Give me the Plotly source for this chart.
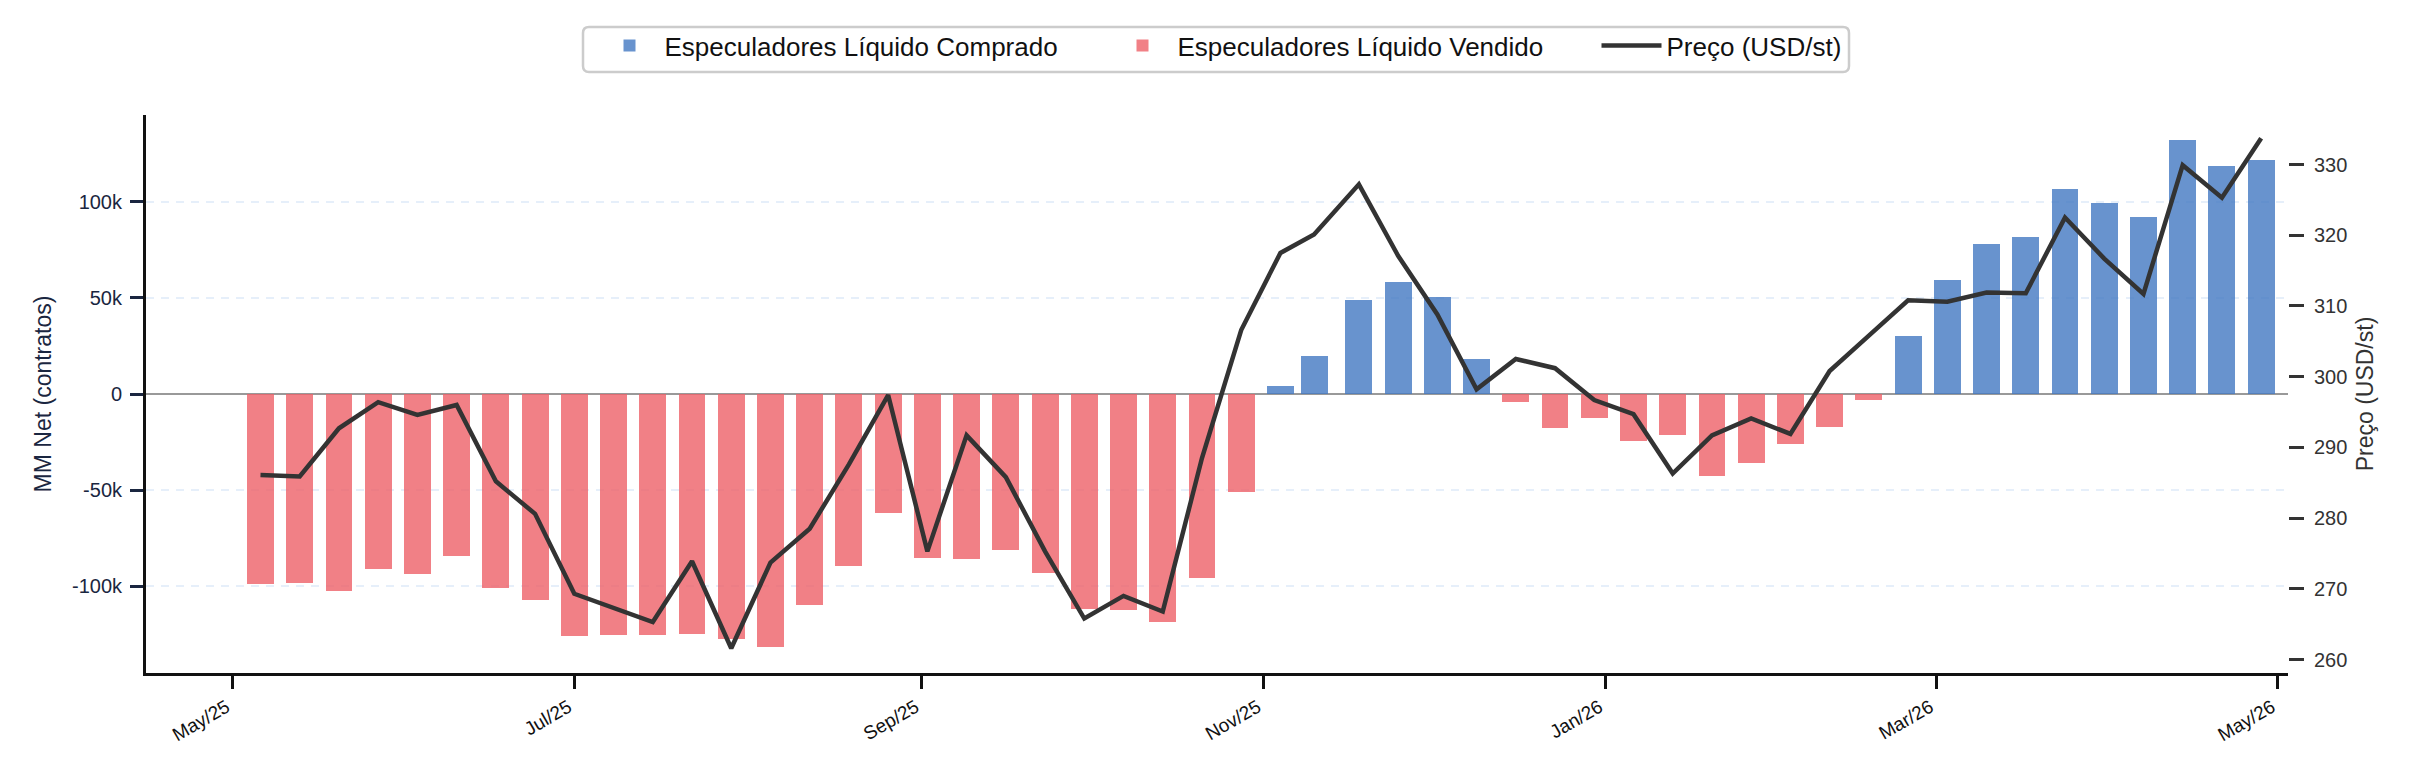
import plotly.graph_objects as go

# ---- data ----
dates = [
    "2025-05-06", "2025-05-13", "2025-05-20", "2025-05-27", "2025-06-03", "2025-06-10",
    "2025-06-17", "2025-06-24", "2025-07-01", "2025-07-08", "2025-07-15", "2025-07-22",
    "2025-07-29", "2025-08-05", "2025-08-12", "2025-08-19", "2025-08-26", "2025-09-02",
    "2025-09-09", "2025-09-16", "2025-09-23", "2025-09-30", "2025-10-07", "2025-10-14",
    "2025-10-21", "2025-10-28", "2025-11-04", "2025-11-10", "2025-11-18", "2025-11-25",
    "2025-12-02", "2025-12-09", "2025-12-16", "2025-12-23", "2025-12-30", "2026-01-06",
    "2026-01-13", "2026-01-20", "2026-01-27", "2026-02-03", "2026-02-10", "2026-02-17",
    "2026-02-24", "2026-03-03", "2026-03-10", "2026-03-17", "2026-03-24", "2026-03-31",
    "2026-04-07", "2026-04-14", "2026-04-21", "2026-04-28",
]

mm_net_k = [
    -98.7, -98.3, -102.2, -91.0, -93.5, -84.2, -101.0, -106.8, -125.9, -125.3,
    -125.3, -124.9, -127.4, -131.7, -109.7, -89.5, -61.9, -85.2, -85.8, -81.2,
    -93.1, -111.8, -112.4, -118.6, -95.6, -50.9, 4.2, 19.9, 48.6, 58.4,
    50.5, 18.3, -3.9, -17.9, -12.7, -24.3, -21.2, -42.4, -35.7, -25.8,
    -17.0, -2.9, 30.3, 59.4, 77.7, 81.4, 106.4, 99.1, 91.8, 131.9,
    118.4, 121.5,
]

price = [
    286.1, 285.9, 292.7, 296.4, 294.6, 296.0, 285.2, 280.6, 269.3, 267.3,
    265.3, 273.9, 261.6, 273.7, 278.5, 287.6, 297.4, 275.3, 291.7, 285.8,
    275.3, 265.8, 269.0, 266.8, 288.5, 306.6, 317.5, 320.1, 327.2, 317.1,
    308.8, 298.2, 302.5, 301.2, 296.7, 294.7, 286.3, 291.7, 294.1, 291.9,
    300.8, 305.8, 310.8, 310.6, 311.9, 311.8, 322.5, 316.7, 311.7, 329.9,
    325.3, 333.7,
]

x_tick_dates = ["2025-05-01", "2025-07-01", "2025-09-01", "2025-11-01",
                "2026-01-01", "2026-03-01", "2026-05-01"]
x_tick_text = ["May/25", "Jul/25", "Sep/25", "Nov/25", "Jan/26", "Mar/26", "May/26"]

y_tick_vals = [-100000, -50000, 0, 50000, 100000]
y_tick_text = ["-100k", "-50k", "0", "50k", "100k"]

y2_tick_vals = [260, 270, 280, 290, 300, 310, 320, 330]

# ---- derived series ----
mm_net = [v * 1000 for v in mm_net_k]
pos_x = [d for d, v in zip(dates, mm_net) if v >= 0]
pos_y = [v for v in mm_net if v >= 0]
neg_x = [d for d, v in zip(dates, mm_net) if v < 0]
neg_y = [v for v in mm_net if v < 0]

BAR_W = 4.8 * 86400000  # ms
FONT = "Liberation Sans, Arial, sans-serif"
NAVY = "#1a2640"

# page geometry (px) used to place the legend frame
W, H = 2416, 781
ML, MR, MT, MB = 146, 128, 115, 108
PW, PH = W - ML - MR, H - MT - MB


def px_x(px):
    return (px - ML) / PW


def px_y(py):
    return (H - MB - py) / PH


fig = go.Figure()
fig.add_trace(go.Bar(
    x=pos_x, y=pos_y, width=BAR_W, name="Especuladores Líquido Comprado",
    marker=dict(color="rgba(66,120,194,0.8)", line=dict(width=0)),
    legendwidth=438,
))
fig.add_trace(go.Bar(
    x=neg_x, y=neg_y, width=BAR_W, name="Especuladores Líquido Vendido",
    marker=dict(color="rgba(238,96,104,0.8)", line=dict(width=0)),
    legendwidth=414,
))
fig.add_trace(go.Scatter(
    x=dates, y=price, mode="lines", name="Preço (USD/st)", yaxis="y2",
    line=dict(color="#333333", width=4.5),
    legendwidth=180,
))

# rounded legend frame
x0, x1, y0, y1 = px_x(583), px_x(1849), px_y(72), px_y(27)
rx, ry = 6 / PW, 6 / PH
frame = (f"M{x0+rx},{y1} L{x1-rx},{y1} Q{x1},{y1} {x1},{y1-ry} "
         f"L{x1},{y0+ry} Q{x1},{y0} {x1-rx},{y0} L{x0+rx},{y0} "
         f"Q{x0},{y0} {x0},{y0+ry} L{x0},{y1-ry} Q{x0},{y1} {x0+rx},{y1} Z")

fig.update_layout(
    width=W, height=H,
    paper_bgcolor="white", plot_bgcolor="white",
    font=dict(family=FONT, color="#111111"),
    margin=dict(l=ML, r=MR, t=MT, b=MB, autoexpand=False),
    barmode="overlay",
    bargap=0,
    showlegend=True,
    shapes=[dict(type="path", path=frame, xref="paper", yref="paper",
                 line=dict(color="#cccccc", width=2.5), fillcolor="white",
                 layer="above")],
    legend=dict(
        orientation="h", x=px_x(594.5), xanchor="left", y=px_y(22), yanchor="top",
        borderwidth=0, bgcolor="rgba(0,0,0,0)",
        font=dict(size=26, color="#111111", family=FONT),
        traceorder="normal",
        itemwidth=60,
    ),
    xaxis=dict(
        type="date",
        range=["2025-04-15 13:40", "2026-05-02 19:00"],
        tickmode="array", tickvals=x_tick_dates, ticktext=x_tick_text,
        tickangle=-30,
        tickfont=dict(size=19, color="#111111", family=FONT),
        ticks="outside", ticklen=13, tickwidth=2.5, tickcolor="#111111",
        ticklabelshift=-6,
        showline=True, linecolor="#111111", linewidth=3,
        showgrid=False, zeroline=False,
    ),
    yaxis=dict(
        range=[-145000, 145000],
        tickmode="array", tickvals=y_tick_vals, ticktext=y_tick_text,
        tickfont=dict(size=20, color=NAVY, family=FONT),
        ticks="outside", ticklen=13, tickwidth=3, tickcolor=NAVY,
        ticklabelstandoff=4,
        showline=True, linecolor="#111111", linewidth=3,
        showgrid=True, gridcolor="#e6effa", gridwidth=2, griddash="8px,7px",
        zeroline=True, zerolinecolor="#999999", zerolinewidth=2,
        title=dict(text="MM Net (contratos)", font=dict(size=23, color=NAVY, family=FONT),
                   standoff=14),
    ),
    yaxis2=dict(
        overlaying="y", side="right",
        range=[258.1, 337.0],
        tickmode="array", tickvals=y2_tick_vals,
        tickfont=dict(size=20, color="#333333", family=FONT),
        ticks="outside", ticklen=15, tickwidth=3, tickcolor="#333333",
        ticklabelstandoff=6,
        showline=False, showgrid=False, zeroline=False,
        title=dict(text="Preço (USD/st)", font=dict(size=23, color="#333333", family=FONT),
                   standoff=10),
    ),
)

fig.write_html("out.html")
